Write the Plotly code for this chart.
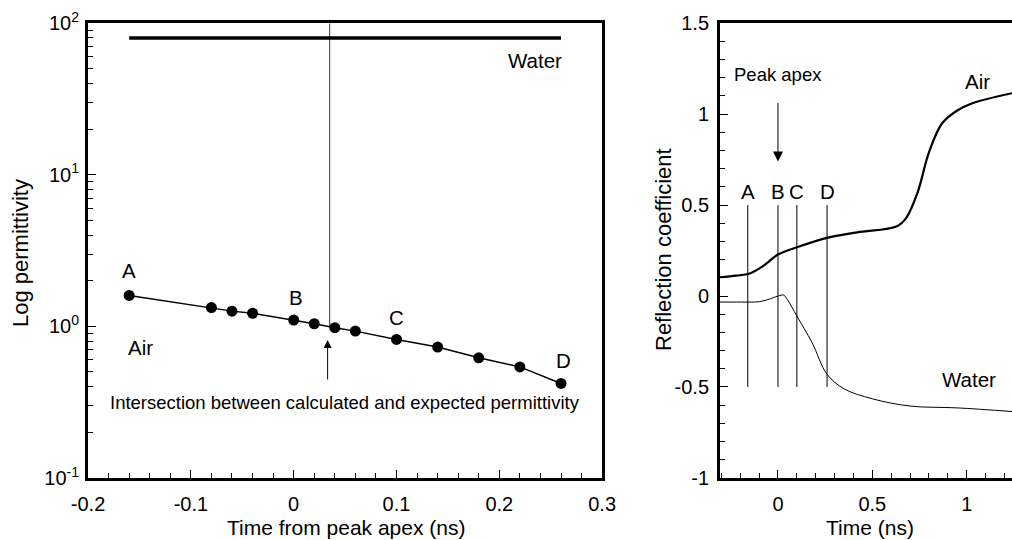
import plotly.graph_objects as go

# ---- left panel data ----
t_peak = [-0.16, -0.08, -0.06, -0.04, 0.0, 0.02, 0.04, 0.06, 0.10, 0.14, 0.18, 0.22, 0.26]
perm = [1.60, 1.33, 1.26, 1.22, 1.10, 1.04, 0.98, 0.93, 0.82, 0.73, 0.62, 0.54, 0.42]
water_t = [-0.16, 0.26]
water_perm = [80, 80]
intersect_t = [0.035, 0.035]
intersect_perm = [0.98, 100]

# ---- right panel data ----
air_t = [-0.31, -0.22, -0.15, -0.08, 0.0, 0.10, 0.26, 0.42, 0.63, 0.68, 0.74, 0.80, 0.87, 0.95, 1.03, 1.24]
air_r = [0.103, 0.112, 0.124, 0.164, 0.228, 0.268, 0.32, 0.35, 0.384, 0.43, 0.57, 0.79, 0.95, 1.02, 1.06, 1.115]
wat_t = [-0.31, -0.2, -0.1, -0.04, 0.0, 0.03, 0.05, 0.10, 0.18, 0.26, 0.35, 0.50, 0.70, 0.95, 1.24]
wat_r = [-0.033, -0.033, -0.031, -0.015, 0.0, 0.005, -0.02, -0.11, -0.255, -0.43, -0.51, -0.565, -0.605, -0.615, -0.635]
marker_names = ["A", "B", "C", "D"]
marker_t = [-0.16, 0.0, 0.10, 0.26]

FONT = "Liberation Sans, Arial, Helvetica, sans-serif"
TICK = 20
TITLE = 21.5
LETTER = 20.5
SMALL = 18.5

fig = go.Figure()

fig.add_trace(go.Scatter(x=t_peak, y=perm, mode="lines+markers",
                         line=dict(color="black", width=1.5),
                         marker=dict(color="black", size=11),
                         xaxis="x", yaxis="y", showlegend=False))
fig.add_trace(go.Scatter(x=water_t, y=water_perm, mode="lines",
                         line=dict(color="black", width=3.5),
                         xaxis="x", yaxis="y", showlegend=False))
fig.add_trace(go.Scatter(x=intersect_t, y=intersect_perm, mode="lines",
                         line=dict(color="black", width=0.8),
                         xaxis="x", yaxis="y", showlegend=False))

fig.add_trace(go.Scatter(x=air_t, y=air_r, mode="lines", line=dict(color="black", width=2.2, shape="spline"),
                         xaxis="x2", yaxis="y2", showlegend=False))
fig.add_trace(go.Scatter(x=wat_t, y=wat_r, mode="lines", line=dict(color="black", width=1, shape="spline"),
                         xaxis="x2", yaxis="y2", showlegend=False))
for name, t in zip(marker_names, marker_t):
    fig.add_trace(go.Scatter(x=[t, t], y=[-0.5, 0.5], mode="lines", line=dict(color="black", width=1),
                             xaxis="x2", yaxis="y2", showlegend=False))

ax_common = dict(showline=True, linecolor="black", linewidth=3, mirror=True,
                 ticks="inside", ticklen=8, tickwidth=1.3, tickcolor="black",
                 showgrid=False, zeroline=False,
                 tickfont=dict(family=FONT, size=TICK, color="black"))

fig.update_layout(
    width=1012, height=540,
    margin=dict(l=0, r=0, t=0, b=0),
    paper_bgcolor="white", plot_bgcolor="white",
    font=dict(family=FONT, color="black"),
    xaxis=dict(ax_common, domain=[0.087, 0.595], range=[-0.2, 0.3],
               tickvals=[-0.2, -0.1, 0, 0.1, 0.2, 0.3], ticktext=["-0.2", "-0.1", "0", "0.1", "0.2", "0.3"],
               minor=dict(ticks="inside", ticklen=5, dtick=0.02, tick0=0, tickcolor="black"),
               ticklabelstandoff=6, anchor="y", automargin=False),
    yaxis=dict(ax_common, type="log", domain=[0.115, 0.957], range=[-1, 2],
               tickvals=[0.1, 1, 10, 100],
               ticktext=["10<sup>-1</sup>", "10<sup>0</sup>", "10<sup>1</sup>", "10<sup>2</sup>"],
               minor=dict(ticks="inside", ticklen=5, tickcolor="black",
                          tickvals=[0.2, 0.3, 0.4, 0.5, 0.6, 0.7, 0.8, 0.9,
                                    2, 3, 4, 5, 6, 7, 8, 9, 20, 30, 40, 50, 60, 70, 80, 90]),
               ticklabelstandoff=2, anchor="x", automargin=False),
    xaxis2=dict(ax_common, domain=[0.7115, 1.0], range=[-0.307, 1.24],
                tickvals=[0, 0.5, 1], ticktext=["0", "0.5", "1"],
                minor=dict(ticks="inside", ticklen=5, dtick=0.1, tick0=0, tickcolor="black"),
                ticklabelstandoff=6, anchor="y2", automargin=False),
    yaxis2=dict(ax_common, mirror=False, domain=[0.115, 0.957], range=[-1, 1.5],
                tickvals=[-1, -0.5, 0, 0.5, 1, 1.5], ticktext=["-1", "-0.5", "0", "0.5", "1", "1.5"],
                minor=dict(ticks="inside", ticklen=5, dtick=0.1, tick0=0, tickcolor="black"),
                ticklabelstandoff=4, anchor="x2", automargin=False),
)

ann = []
def txt(x, y, s, xref, yref, size=LETTER, **kw):
    ann.append(dict(x=x, y=y, text=s, xref=xref, yref=yref, showarrow=False,
                    font=dict(family=FONT, size=size, color="black"), **kw))

# left panel labels (y given in log10 units on the log axis)
txt(-0.16, 0.37, "A", "x", "y")
txt(0.002, 0.19, "B", "x", "y")
txt(0.10, 0.06, "C", "x", "y")
txt(0.262, -0.224, "D", "x", "y")
txt(-0.149, -0.138, "Air", "x", "y")
txt(0.235, 1.753, "Water", "x", "y")
txt(0.05, -0.5, "Intersection between calculated and expected permittivity", "x", "y", size=SMALL)
ann.append(dict(x=0.033, y=-0.09, xref="x", yref="y", ax=0, ay=41, text="",
                showarrow=True, arrowhead=2, arrowsize=1.6, arrowwidth=1, arrowcolor="black"))

# right panel labels
for name, t in zip(marker_names, marker_t):
    txt(t, 0.575, name, "x2", "y2")
txt(0.0, 1.22, "Peak apex", "x2", "y2", size=SMALL)
ann.append(dict(x=0.0, y=0.74, xref="x2", yref="y2", ax=0, ay=-60, text="",
                showarrow=True, arrowhead=2, arrowsize=2, arrowwidth=1, arrowcolor="black"))
txt(1.055, 1.18, "Air", "x2", "y2")
txt(1.01, -0.46, "Water", "x2", "y2")

# axis titles
def title(x, y, s, angle=0, size=TITLE):
    ann.append(dict(x=x / 1012, y=1 - y / 540, xref="paper", yref="paper", text=s, textangle=angle,
                    xanchor="center", yanchor="middle", showarrow=False, borderpad=0,
                    font=dict(family=FONT, size=size, color="black")))

title(346, 527, "Time from peak apex (ns)", size=21)
title(870, 527, "Time (ns)", size=21)
title(20, 253, "Log permittivity", -90, size=22)
title(663, 250, "Reflection coefficient", -90, size=22)

fig.update_layout(annotations=ann)
fig.write_html("out.html")
